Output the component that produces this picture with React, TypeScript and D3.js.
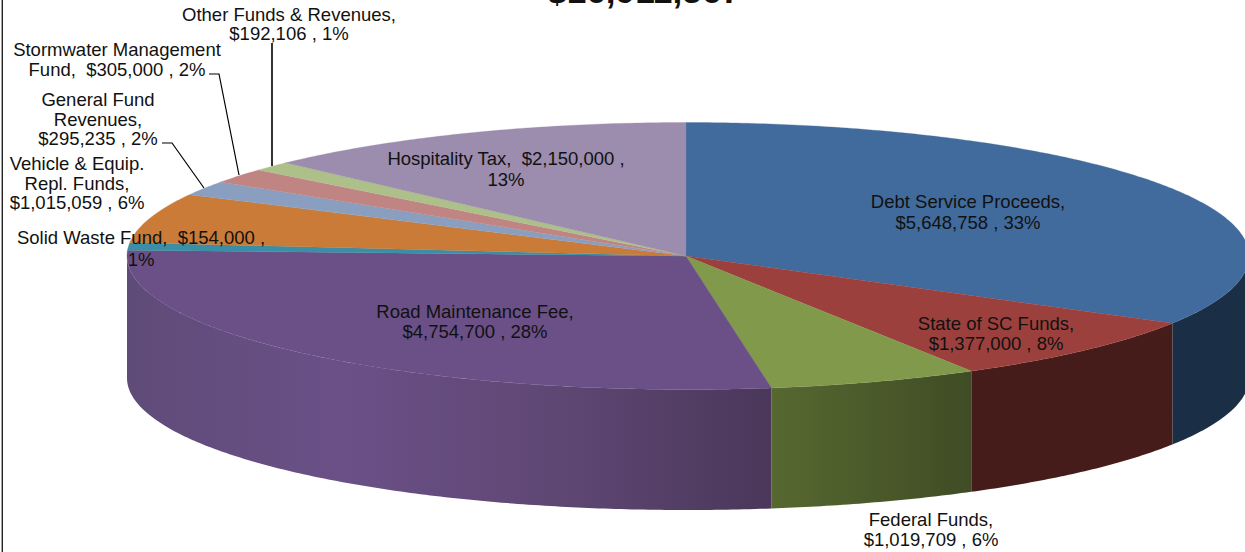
import React from "react";
import * as d3 from "d3";

const categories = ["Debt Service Proceeds", "State of SC Funds", "Federal Funds", "Road Maintenance Fee", "Solid Waste Fund", "Vehicle & Equip. Repl. Funds", "General Fund Revenues", "Stormwater Management Fund", "Other Funds & Revenues", "Hospitality Tax"];
const values = [5648758, 1377000, 1019709, 4754700, 154000, 1015059, 295235, 305000, 192106, 2150000];
const titleText = "$16,911,567";

const faceColors = ["#416b9c", "#9c403e", "#81994a", "#6a5087", "#3a8ea6", "#c97b37", "#8a9fc0", "#c08583", "#adc08a", "#9c8cae"];
const wallStops: string[][] = [
  ["#1a2e45", "#1a2e45"],
  ["#461c1a", "#461c1a"],
  ["#566830", "#404c25"],
  ["#5f4b78", "#6a5087", "#5f4774", "#4a3759"],
];

const labelLines: string[][] = [
  ["Debt Service Proceeds,", "$5,648,758 , 33%"],
  ["State of SC Funds,", "$1,377,000 , 8%"],
  ["Federal Funds,", "$1,019,709 , 6%"],
  ["Road Maintenance Fee,", "$4,754,700 , 28%"],
  ["Solid Waste Fund,  $154,000 ,", "1%"],
  ["Vehicle & Equip.", "Repl. Funds,", "$1,015,059 , 6%"],
  ["General Fund", "Revenues,", "$295,235 , 2%"],
  ["Stormwater Management", "Fund,  $305,000 , 2%"],
  ["Other Funds & Revenues,", "$192,106 , 1%"],
  ["Hospitality Tax,  $2,150,000 ,", "13%"],
];
const labelX = [968, 996, 931, 475, 141, 77, 98, 117, 289, 506];
const labelY = [[208, 229], [330, 350], [526, 546], [318, 338], [244, 266], [170, 190, 209], [106, 126, 145], [56, 76], [21, 40], [165, 186]];

const leaderLines: [number, number][][] = [
  [[272, 43], [272, 166]],
  [[209, 74], [219, 74], [239, 175]],
  [[162, 143], [172, 143], [204, 188]],
];

const cx = 686, topY = 256, bottomY = 378;
const rxRight = 563, rxLeft = 559, ryTop = 133.5, ryBottom = 132;

const px = (a: number) => cx + (Math.sin(a) >= 0 ? rxRight : rxLeft) * Math.sin(a);
const py = (a: number, cy: number, ry: number) => cy - ry * Math.cos(a);
const samples = (a0: number, a1: number) => {
  const n = Math.max(2, Math.ceil((a1 - a0) / 0.01));
  return d3.range(n + 1).map((i) => a0 + ((a1 - a0) * i) / n);
};
const line = d3.line<[number, number]>().x((d) => d[0]).y((d) => d[1]);

export default function App() {
  const arcs = d3.pie<number>().sort(null).startAngle(0).endAngle(2 * Math.PI)(values);
  const font = "'Liberation Sans', Arial, sans-serif";
  return (
    <svg width={1245} height={552} style={{ position: "fixed", left: 0, top: 0, display: "block", background: "#fff" }}>
      <defs>
        {wallStops.map((stops, i) => {
          const a0 = arcs[i].startAngle;
          const a1 = Math.min(arcs[i].endAngle, (3 * Math.PI) / 2);
          return (
            <linearGradient key={i} id={`wall${i}`} gradientUnits="userSpaceOnUse" x1={px(a1)} x2={px(a0)} y1={0} y2={0}>
              {stops.map((c, j) => (
                <stop key={j} offset={j / (stops.length - 1)} stopColor={c} />
              ))}
            </linearGradient>
          );
        })}
      </defs>
      <line x1={2.3} x2={2.3} y1={0} y2={552} stroke="#222" strokeWidth={1.4} />
      {arcs.map((d, i) => {
        const a0 = Math.max(d.startAngle, Math.PI / 2);
        const a1 = Math.min(d.endAngle, (3 * Math.PI) / 2);
        if (a1 <= a0) return null;
        const s = samples(a0, a1);
        const pts: [number, number][] = [
          ...s.map((a) => [px(a), py(a, topY, ryTop)] as [number, number]),
          ...s.slice().reverse().map((a) => [px(a), py(a, bottomY, ryBottom)] as [number, number]),
        ];
        return <path key={i} d={line(pts) + "Z"} fill={`url(#wall${i})`} />;
      })}
      {arcs.map((d, i) => {
        const pts: [number, number][] = [
          [cx, topY],
          ...samples(d.startAngle, d.endAngle).map((a) => [px(a), py(a, topY, ryTop)] as [number, number]),
        ];
        return <path key={i} d={line(pts) + "Z"} fill={faceColors[i]} stroke={faceColors[i]} strokeWidth={0.3} />;
      })}
      {leaderLines.map((l, i) => (
        <path key={i} d={line(l) as string} fill="none" stroke="#000" strokeWidth={i === 0 ? 1.6 : 1.2} />
      ))}
      <g fontFamily={font} fontSize={18.5} fill="#111" textAnchor="middle">
        {labelLines.map((lines, i) =>
          lines.map((t, j) => (
            <text key={`${i}-${j}`} x={labelX[i]} y={labelY[i][j]} xmlSpace="preserve" aria-label={j === 0 ? categories[i] : undefined}>
              {t}
            </text>
          ))
        )}
      </g>
      <text x={644} y={3} textAnchor="middle" fontFamily={font} fontWeight="bold" fontSize={35.2} fill="#111">
        {titleText}
      </text>
    </svg>
  );
}
